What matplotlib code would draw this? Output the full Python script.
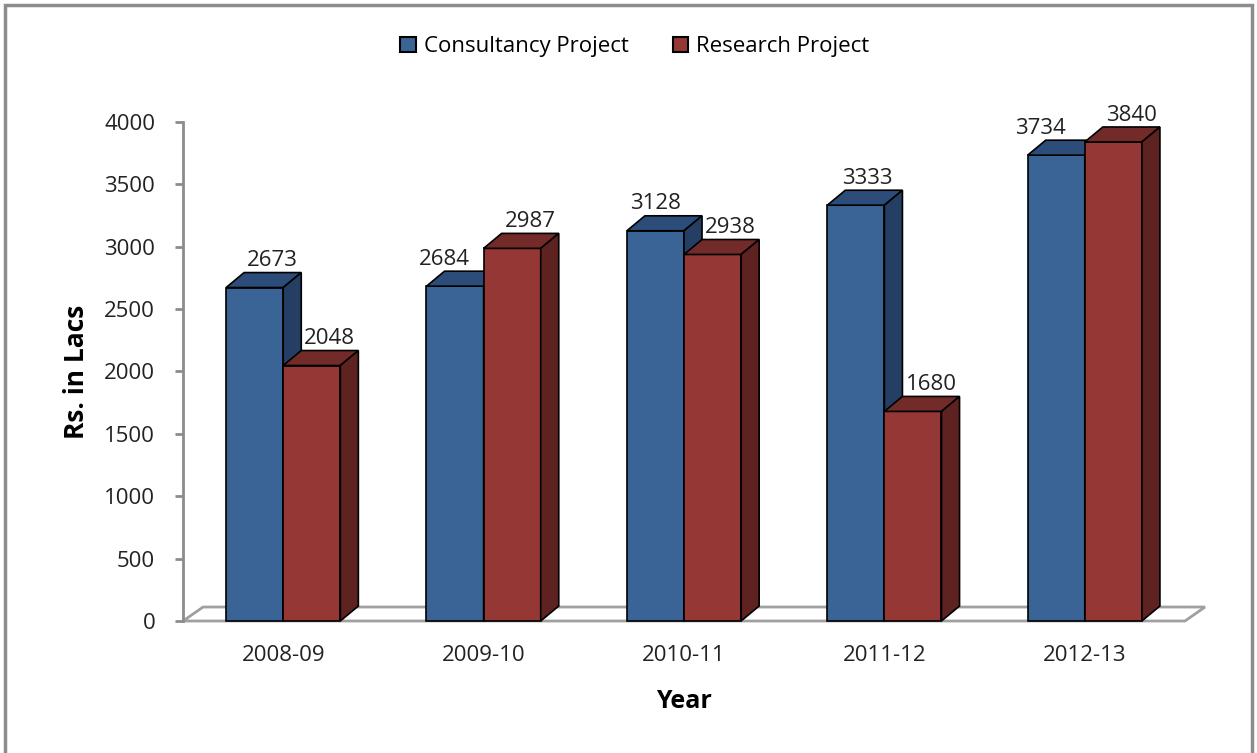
"""Consultancy vs research project earnings, drawn as Excel-style 3D bars."""

import matplotlib.pyplot as plt
from matplotlib.patches import Patch, Polygon, Rectangle

YEARS = ["2008-09", "2009-10", "2010-11", "2011-12", "2012-13"]
CONSULTANCY = [2673, 2684, 3128, 3333, 3734]
RESEARCH = [2048, 2987, 2938, 1680, 3840]
SERIES_NAMES = ["Consultancy Project", "Research Project"]

# front / top / side shades for each series
BLUE = ("#3a6496", "#2c4d79", "#243f63")
RED = ("#953735", "#722b29", "#5e2220")

# Excel nudged some blue labels sideways to avoid the neighbouring bar (in points)
BLUE_LABEL_SHIFT = [0, -21, -13, -5, -24]

BAR_W = 0.285
DX, DY = 0.09, 120  # depth of the fake 3D extrusion (data units)
FS = 16

plt.rcParams["font.family"] = ["Open Sans", "DejaVu Sans"]


def bar3d(ax, x0, height, shades, shift=0):
    front, top, side = shades
    x1 = x0 + BAR_W
    kw = dict(edgecolor="black", linewidth=1.2, clip_on=False, zorder=3)
    ax.add_patch(Polygon([(x0, 0), (x1, 0), (x1, height), (x0, height)], facecolor=front, **kw))
    ax.add_patch(Polygon([(x0, height), (x1, height), (x1 + DX, height + DY), (x0 + DX, height + DY)],
                         facecolor=top, **kw))
    ax.add_patch(Polygon([(x1, 0), (x1 + DX, DY), (x1 + DX, height + DY), (x1, height)],
                         facecolor=side, **kw))
    ax.annotate(f"{height}", xy=(x0 + BAR_W / 2 + DX, height + DY), xytext=(shift, 1),
                textcoords="offset points", ha="center", va="bottom",
                fontsize=FS, color="#222222", zorder=4, annotation_clip=False)


fig = plt.figure(figsize=(12.57, 7.53), dpi=100)
ax = fig.add_axes([0.1456, 0.1753, 0.7971, 0.6627])
ax.set_xlim(-0.5, len(YEARS) - 0.5)
ax.set_ylim(0, 4000)

# floor plane
floor = Polygon([(-0.5, 0), (len(YEARS) - 0.5, 0), (len(YEARS) - 0.5 + 0.1, 112), (-0.4, 112)],
                facecolor="white", edgecolor="#a0a0a0", linewidth=2, clip_on=False, zorder=1)
ax.add_patch(floor)

for i in range(len(YEARS)):
    bar3d(ax, i - BAR_W, CONSULTANCY[i], BLUE, BLUE_LABEL_SHIFT[i])
    bar3d(ax, i, RESEARCH[i], RED)

for side in ["top", "right", "bottom"]:
    ax.spines[side].set_visible(False)
ax.spines["left"].set_color("#8c8c8c")
ax.spines["left"].set_linewidth(2)
ax.set_yticks(range(0, 4001, 500))
ax.tick_params(axis="y", colors="#8c8c8c", length=6, width=2, labelcolor="#222222",
               labelsize=FS, pad=14)
ax.set_xticks(range(len(YEARS)))
ax.set_xticklabels(YEARS)
ax.tick_params(axis="x", length=0, labelsize=FS, labelcolor="#222222", pad=17)

ax.set_ylabel("Rs. in Lacs", fontsize=19, fontweight="bold", labelpad=10.5)
ax.set_xlabel("Year", fontsize=FS + 2, fontweight="bold", labelpad=17)

handles = [Patch(facecolor=BLUE[0], edgecolor="black", linewidth=1.5),
           Patch(facecolor=RED[0], edgecolor="black", linewidth=1.5)]
fig.legend(handles, SERIES_NAMES, loc="center", bbox_to_anchor=(0.505, 0.938), ncol=2,
           frameon=False, fontsize=FS, handlelength=0.7, handleheight=0.7,
           handletextpad=0.35, columnspacing=2.0)

# chart-area border; the bottom edge runs off the image as in the original
fig.add_artist(Rectangle((0.004, -0.01), 0.992, 1.004, transform=fig.transFigure,
                         fill=False, edgecolor="#8c8c8c", linewidth=2.5))

fig.savefig("out.png", dpi=100)
